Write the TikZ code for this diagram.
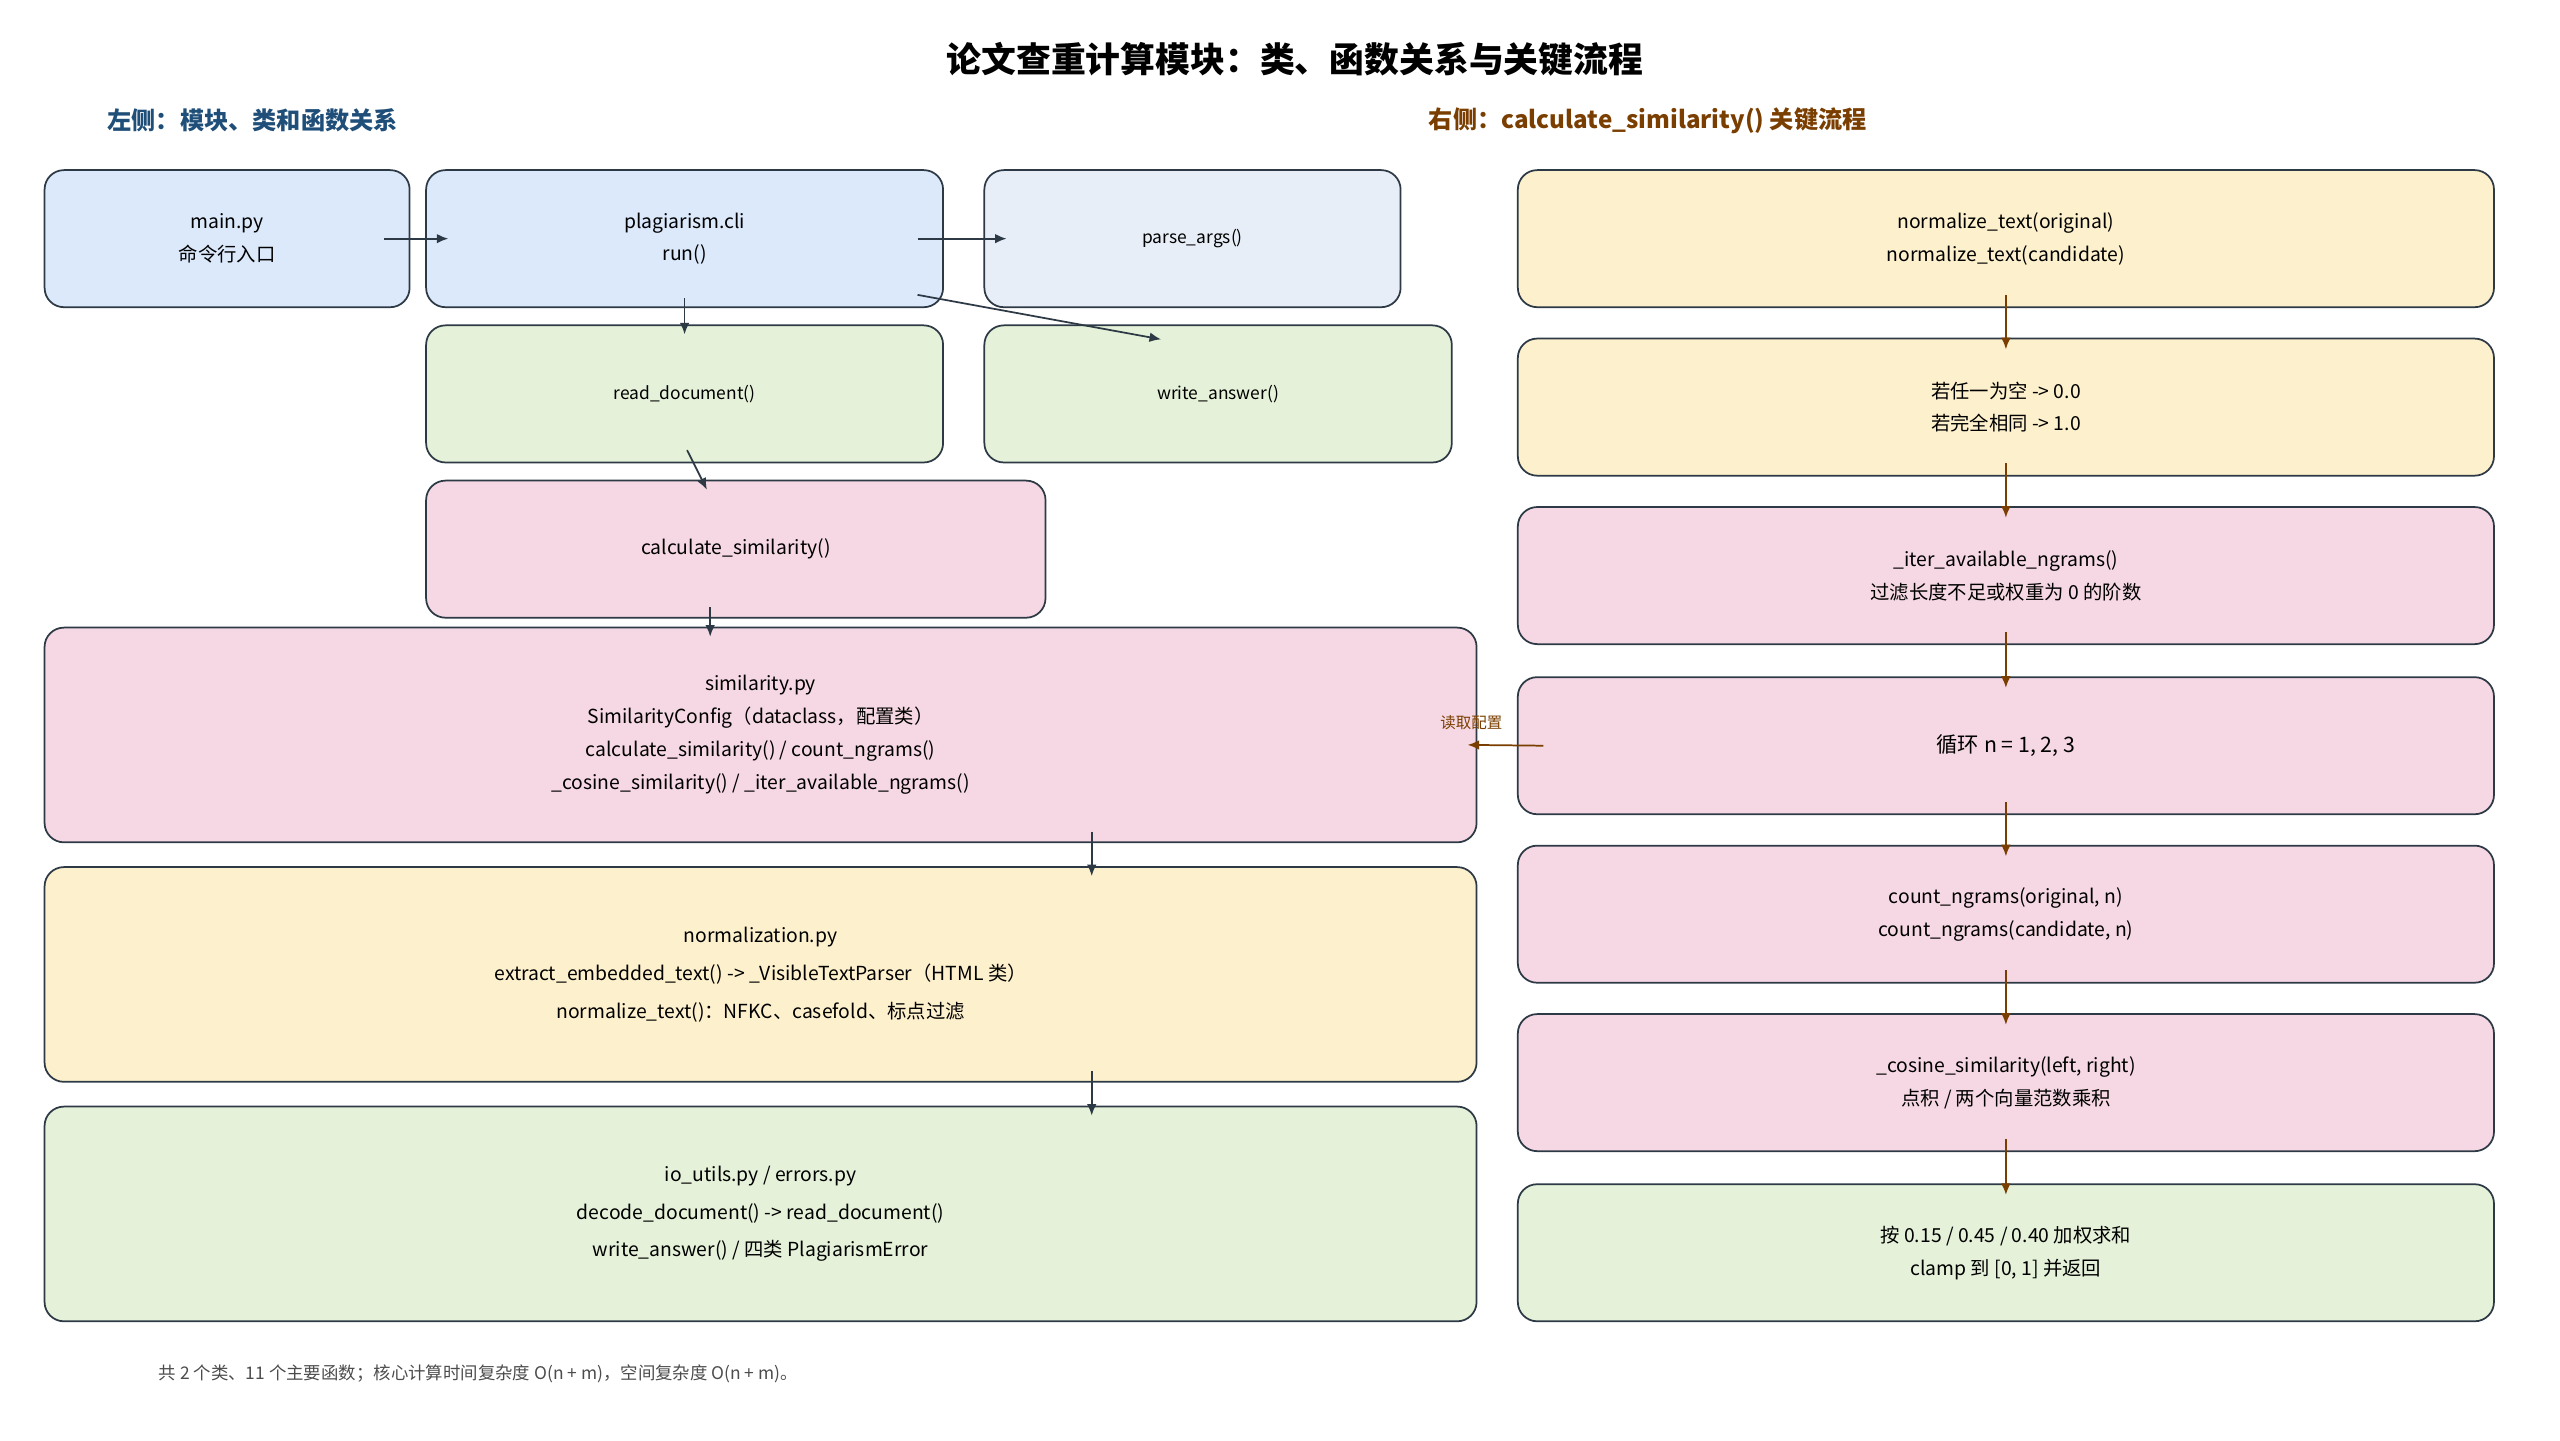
\documentclass[tikz,border=0pt]{standalone}
\usepackage{fontspec}
\setmainfont{Noto Sans CJK SC}
\usetikzlibrary{calc,arrows.meta}
\definecolor{edge}{HTML}{2D3A46}
\definecolor{cblue}{HTML}{DBE9FB}
\definecolor{cpale}{HTML}{E8EEF8}
\definecolor{cgreen}{HTML}{E5F2D9}
\definecolor{cpink}{HTML}{F5D8E3}
\definecolor{cyellow}{HTML}{FDF0CC}
\definecolor{brown}{HTML}{7A3E00}
\definecolor{navy}{HTML}{1F4E79}
\tikzset{
  box/.style={draw=edge, line width=0.9pt, rounded corners=10pt, align=center, font=\fontsize{10}{17}\selectfont, inner sep=0pt},
  arr/.style={-{Latex[length=6pt,width=5pt]}, edge, line width=0.9pt},
  flow/.style={-{Latex[length=6pt,width=5pt]}, brown, line width=0.9pt}
}
\begin{document}
\begin{tikzpicture}[x=0.03cm, y=-0.03cm]
\useasboundingbox (0,0) rectangle (1550,872);
% titles
\node (title) at (784,36) {\fontsize{18}{20}\selectfont\bfseries 论文查重计算模块：类、函数关系与关键流程};
\node[anchor=west, text=navy] (lefthead) at (61,73) {\fontsize{12.5}{14}\selectfont\bfseries 左侧：模块、类和函数关系};
\node[anchor=west, text=brown] (righthead) at (861,73) {\fontsize{12.5}{14}\selectfont\bfseries 右侧：calculate\_similarity() 关键流程};

% left side
\node[box, fill=cblue, minimum width=6.63cm, minimum height=2.49cm] (main) at (137.5,144.5) {main.py\\命令行入口};
\node[box, fill=cblue, minimum width=9.39cm, minimum height=2.49cm] (cli) at (414.5,144.5) {plagiarism.cli\\run()};
\node[box, fill=cpale, minimum width=7.56cm, minimum height=2.49cm, font=\fontsize{9}{12}\selectfont] (parse) at (722,144.5) {parse\_args()};
\node[box, fill=cgreen, minimum width=9.39cm, minimum height=2.49cm, font=\fontsize{9}{12}\selectfont] (read) at (414.5,238.5) {read\_document()};
\node[box, fill=cgreen, minimum width=8.49cm, minimum height=2.49cm, font=\fontsize{9}{12}\selectfont] (write) at (737.5,238.5) {write\_answer()};
\node[box, fill=cpink, minimum width=11.25cm, minimum height=2.49cm] (calc) at (445.5,332.5) {calculate\_similarity()};
\node[box, fill=cpink, minimum width=26.01cm, minimum height=3.9cm] (sim) at (460.5,445) {similarity.py\\SimilarityConfig（dataclass，配置类）\\calculate\_similarity() / count\_ngrams()\\\_cosine\_similarity() / \_iter\_available\_ngrams()};
\node[box, fill=cyellow, minimum width=26.01cm, minimum height=3.9cm, font=\fontsize{10}{19.5}\selectfont] (norm) at (460.5,590) {normalization.py\\extract\_embedded\_text() -> \_VisibleTextParser（HTML 类）\\normalize\_text()：NFKC、casefold、标点过滤};
\node[box, fill=cgreen, minimum width=26.01cm, minimum height=3.9cm, font=\fontsize{10}{19.5}\selectfont] (io) at (460.5,735) {io\_utils.py / errors.py\\decode\_document() -> read\_document()\\write\_answer() / 四类 PlagiarismError};

% right side
\node[box, fill=cyellow, minimum width=17.73cm, minimum height=2.49cm] (r1) at (1214.5,144.5) {normalize\_text(original)\\normalize\_text(candidate)};
\node[box, fill=cyellow, minimum width=17.73cm, minimum height=2.49cm] (r2) at (1214.5,246.5) {若任一为空 -> 0.0\\若完全相同 -> 1.0};
\node[box, fill=cpink, minimum width=17.73cm, minimum height=2.49cm] (r3) at (1214.5,348.5) {\_iter\_available\_ngrams()\\过滤长度不足或权重为 0 的阶数};
\node[box, fill=cpink, minimum width=17.73cm, minimum height=2.49cm, font=\fontsize{11}{14}\selectfont] (r4) at (1214.5,451.5) {循环 n = 1, 2, 3};
\node[box, fill=cpink, minimum width=17.73cm, minimum height=2.49cm] (r5) at (1214.5,553.5) {count\_ngrams(original, n)\\count\_ngrams(candidate, n)};
\node[box, fill=cpink, minimum width=17.73cm, minimum height=2.49cm] (r6) at (1214.5,655.5) {\_cosine\_similarity(left, right)\\点积 / 两个向量范数乘积};
\node[box, fill=cgreen, minimum width=17.73cm, minimum height=2.49cm] (r7) at (1214.5,758.5) {按 0.15 / 0.45 / 0.40 加权求和\\clamp 到 [0, 1] 并返回};

% footnote
\node[anchor=west, text=black!70, font=\fontsize{9}{11}\selectfont] (foot) at (92,832) {共 2 个类、11 个主要函数；核心计算时间复杂度 O(n + m)，空间复杂度 O(n + m)。};

% left arrows
\draw[arr] ($(main.east)+(-16,0)$) -- ($(cli.west)+(14,0)$);
\draw[arr] ($(cli.east)+(-16,0)$) -- ($(parse.west)+(14,0)$);
\draw[arr] ($(cli.south east)+(-16,-8)$) -- ($(write.north)+(-34.5,9)$);
\draw[arr] ($(cli.south)+(0,-6)$) -- ($(read.north)+(0,6)$);
\draw[arr] ($(read.south)+(1.5,-8)$) -- ($(calc.north)+(-17.5,6)$);
\draw[arr] ($(calc.south)+(-15.5,-7)$) -- ($(sim.north)+(-30.5,6)$);
\draw[arr] ($(sim.south)+(200.5,-7)$) -- ($(norm.north)+(200.5,6)$);
\draw[arr] ($(norm.south)+(200.5,-7)$) -- ($(io.north)+(200.5,6)$);

% right arrows
\foreach \a/\b in {r1/r2, r2/r3, r3/r4, r4/r5, r5/r6, r6/r7}
  \draw[flow] ($(\a.south)+(0,-8)$) -- ($(\b.north)+(0,7)$);
\draw[flow] ($(r4.west)+(16,0)$) -- node[above=4pt, pos=0.95, font=\fontsize{8}{10}\selectfont, text=brown] (cfg) {读取配置} ($(sim.east)+(-6,6)$);
\end{tikzpicture}
\end{document}
